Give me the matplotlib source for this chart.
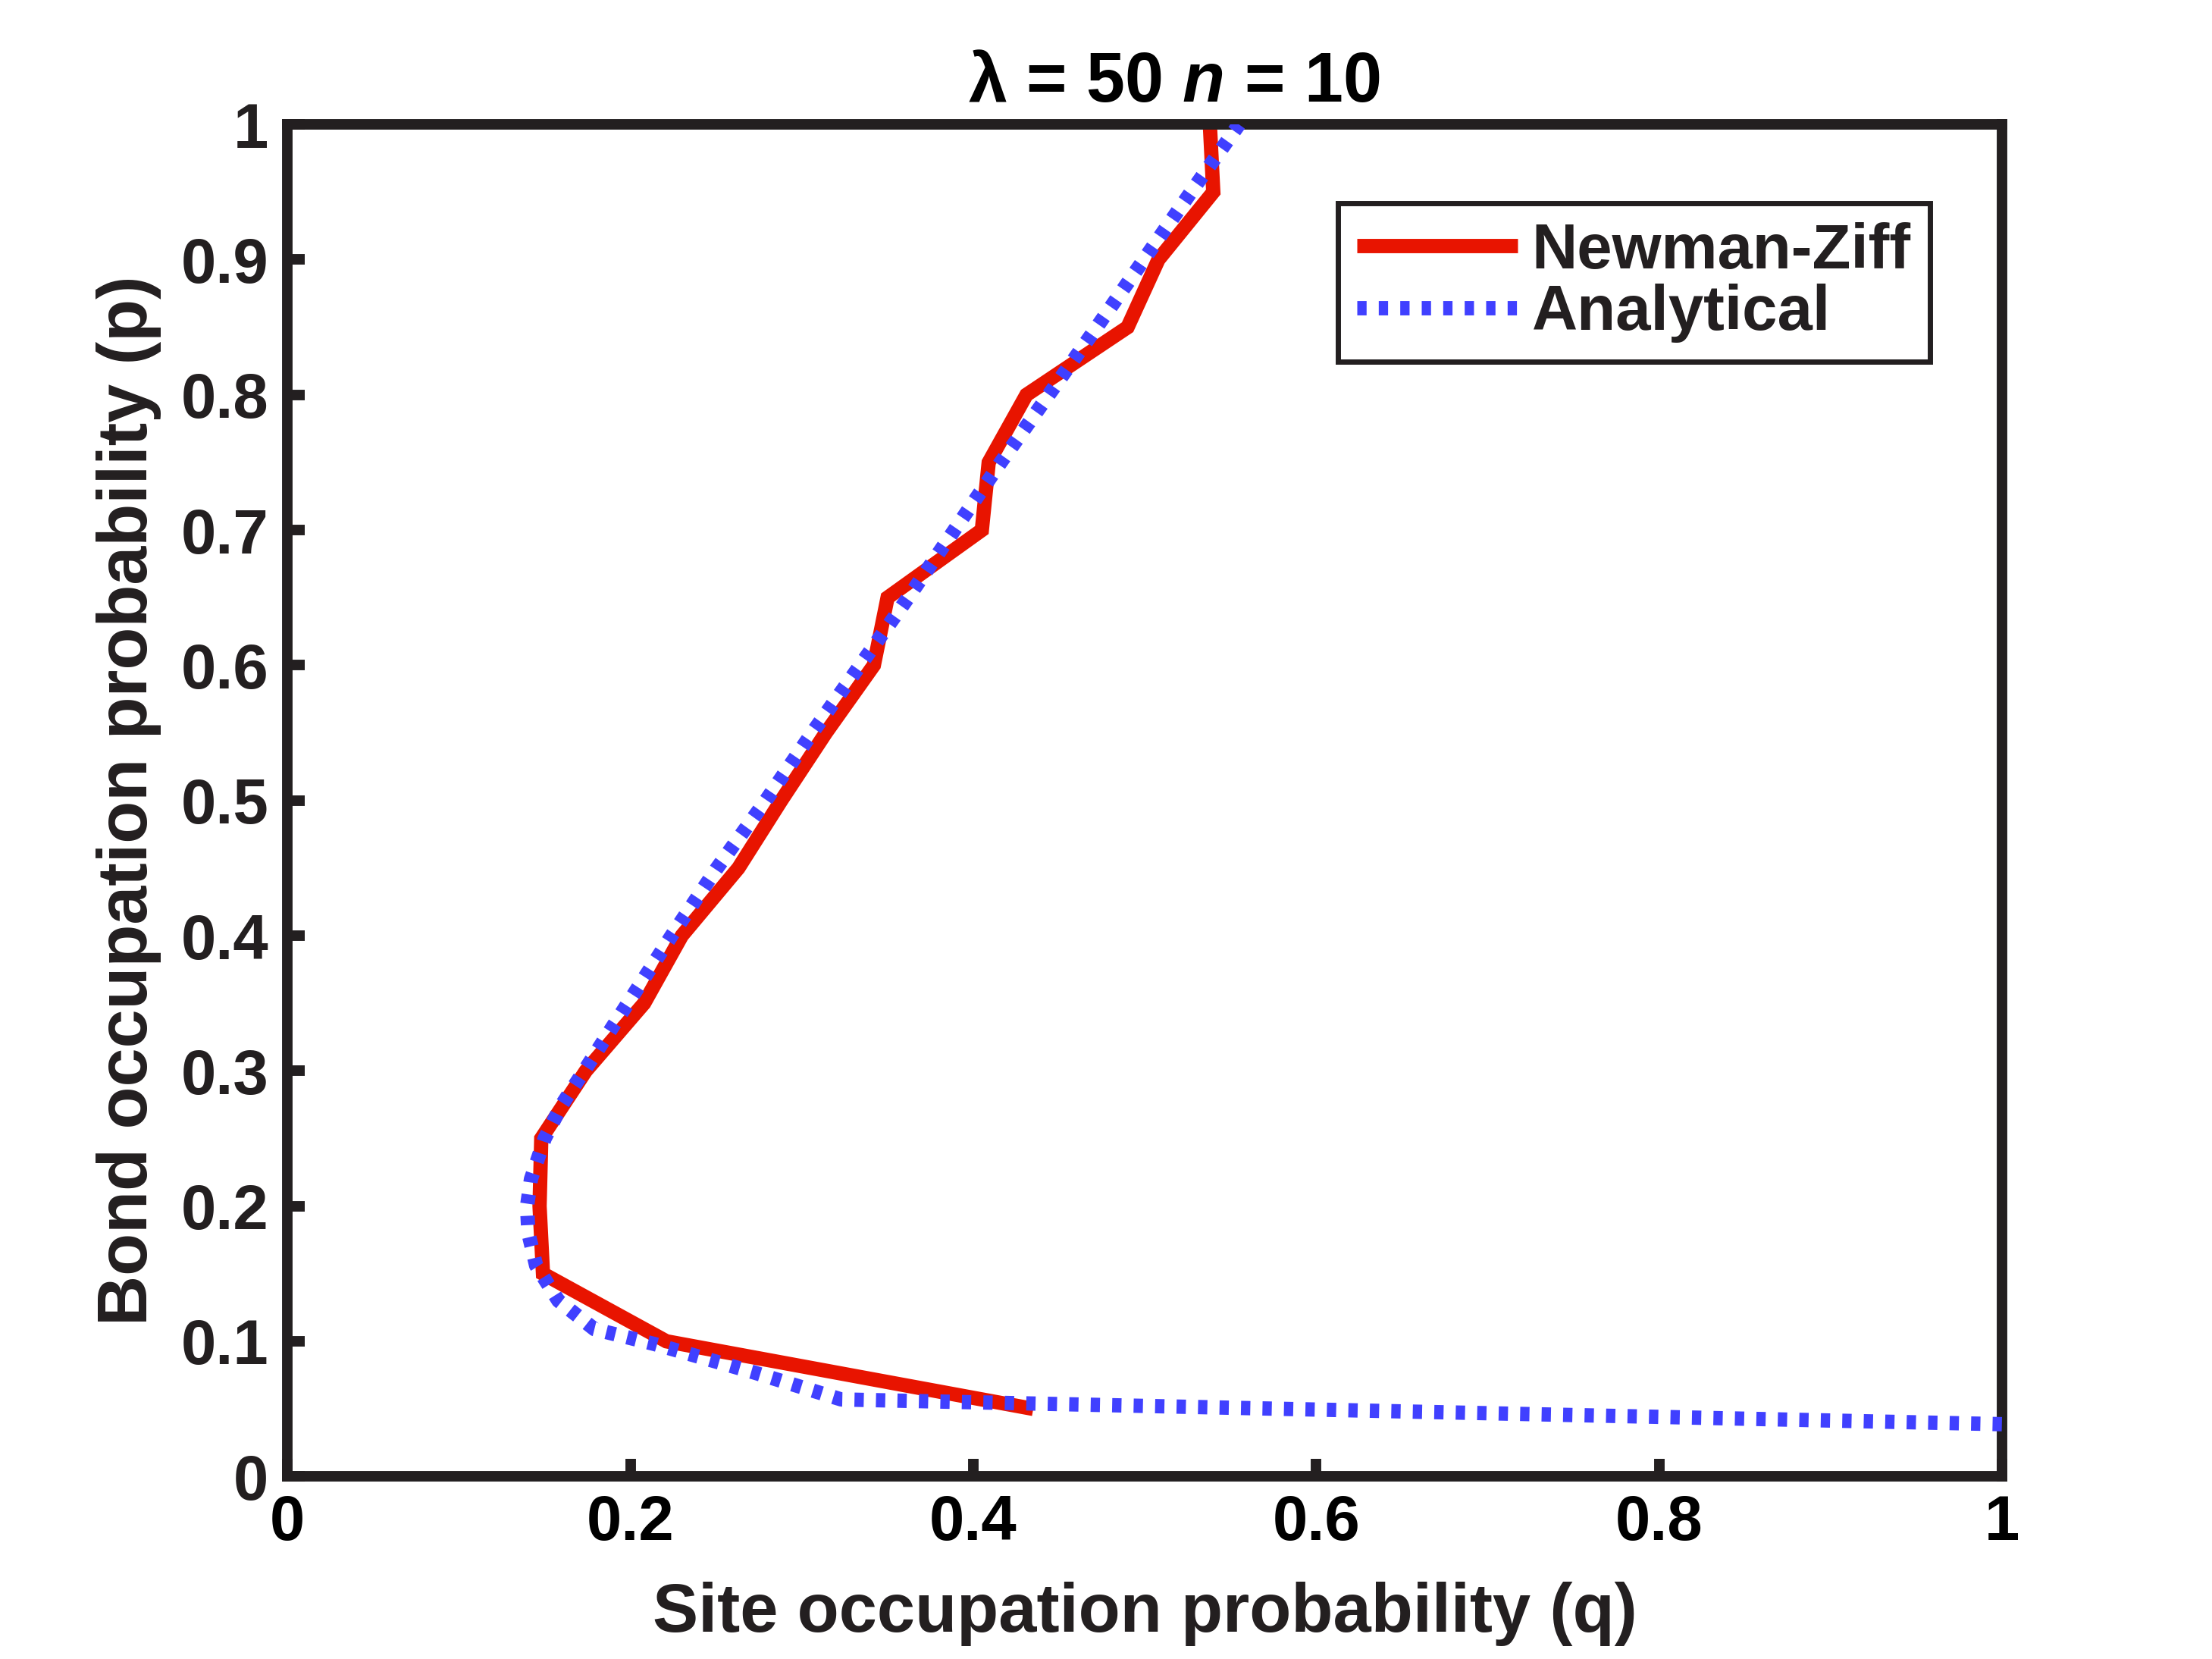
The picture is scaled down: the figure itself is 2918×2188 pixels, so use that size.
import matplotlib
matplotlib.use("Agg")
import matplotlib.pyplot as plt

# Newman-Ziff simulation: site probability q at each bond probability p
p_nz = [0.05, 0.10, 0.15, 0.20, 0.25, 0.30, 0.35, 0.40, 0.45, 0.50,
        0.55, 0.60, 0.65, 0.70, 0.75, 0.80, 0.85, 0.90, 0.95, 1.00]
q_nz = [0.435, 0.221, 0.149, 0.147, 0.148, 0.174, 0.208, 0.230, 0.263, 0.288,
        0.314, 0.342, 0.350, 0.405, 0.409, 0.431, 0.490, 0.508, 0.540, 0.538]

# analytical curve
p_an = [0.0387, 0.057, 0.077, 0.098, 0.109, 0.130, 0.156, 0.180, 0.200, 0.220,
        0.250, 0.275, 0.300, 0.350, 0.400, 0.450, 0.500, 0.550, 0.600, 0.650,
        0.700, 0.750, 0.800, 0.850, 0.900, 0.950, 1.000]
q_an = [1.000, 0.323, 0.272, 0.214, 0.179, 0.158, 0.145, 0.1405, 0.1397, 0.142,
        0.150, 0.160, 0.173, 0.1985, 0.224, 0.2505, 0.279, 0.306, 0.334, 0.362,
        0.389, 0.416, 0.444, 0.472, 0.4995, 0.527, 0.555]

xticks = [0, 0.2, 0.4, 0.6, 0.8, 1]
xticklabels = ["0", "0.2", "0.4", "0.6", "0.8", "1"]
yticks = [0, 0.1, 0.2, 0.3, 0.4, 0.5, 0.6, 0.7, 0.8, 0.9, 1]
yticklabels = ["0", "0.1", "0.2", "0.3", "0.4", "0.5", "0.6", "0.7", "0.8", "0.9", "1"]

dark = "#231F20"
plt.rcParams["font.family"] = ["Liberation Sans", "DejaVu Sans"]
plt.rcParams["font.weight"] = "bold"
plt.rcParams["mathtext.fontset"] = "custom"
plt.rcParams["mathtext.rm"] = "Liberation Sans:bold"
plt.rcParams["mathtext.it"] = "Liberation Sans:bold:italic"
plt.rcParams["mathtext.bf"] = "Liberation Sans:bold"

fig = plt.figure(figsize=(14.59, 10.94), dpi=200)
ax = fig.add_axes([0.13, 0.11, 0.775, 0.815])

ax.plot(q_nz, p_nz, color="#E81400", lw=6.8, solid_joinstyle="miter",
        solid_capstyle="butt", label="Newman-Ziff", zorder=2)
ax.plot(q_an, p_an, color="#4040FF", lw=6.8, linestyle=(0, (0.65, 0.85)),
        dash_capstyle="butt", label="Analytical", zorder=3)

ax.set_xlim(0, 1)
ax.set_ylim(0, 1)
ax.set_xticks(xticks)
ax.set_xticklabels(xticklabels)
ax.set_yticks(yticks)
ax.set_yticklabels(yticklabels)

for s in ax.spines.values():
    s.set_linewidth(5)
    s.set_color(dark)
ax.tick_params(direction="in", length=8.3, width=5, color=dark,
               labelsize=30, top=False, right=False)
ax.tick_params(axis="y", pad=9, labelcolor=dark)
ax.tick_params(axis="x", pad=8, labelcolor="black")

ax.set_xlabel("Site occupation probability (q)", fontsize=32.5,
              fontweight="bold", color=dark, labelpad=14)
ax.set_ylabel("Bond occupation probability (p)", fontsize=33,
              fontweight="bold", color=dark, labelpad=9)
ax.set_title("λ = 50 $n$ = 10", fontsize=33, fontweight="bold",
             color="black", pad=11, x=0.517)

leg = ax.legend(loc="upper right", bbox_to_anchor=(0.958, 0.942),
                borderaxespad=0, fontsize=30, handlelength=2.55,
                handletextpad=0.22, borderpad=0.3, labelspacing=0.04,
                fancybox=False, framealpha=1, edgecolor=dark)
leg.get_frame().set_linewidth(2.5)
for t in leg.get_texts():
    t.set_color(dark)

fig.savefig("out.png", dpi=200)
